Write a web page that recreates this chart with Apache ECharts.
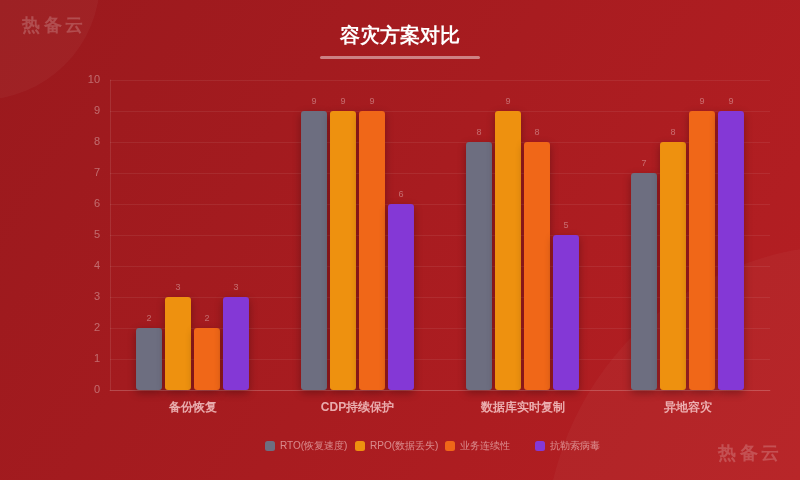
<!DOCTYPE html>
<html>
<head>
<meta charset="utf-8">
<script src="https://cdn.jsdelivr.net/npm/echarts@6/dist/echarts.min.js"></script>
<style>
html,body{margin:0;padding:0;width:800px;height:480px;overflow:hidden;}
#c{width:800px;height:480px;}
</style>
</head>
<body>
<div id="c"></div>
<script>
const categories = ['备份恢复', 'CDP持续保护', '数据库实时复制', '异地容灾'];
const seriesNames = ['RTO(恢复速度)', 'RPO(数据丢失)', '业务连续性', '抗勒索病毒'];
const rtoValues = [2, 9, 8, 7];
const rpoValues = [3, 9, 9, 8];
const continuityValues = [2, 9, 8, 9];
const ransomwareValues = [3, 6, 5, 9];
const yTicks = [0, 1, 2, 3, 4, 5, 6, 7, 8, 9, 10];

const colors = ['#6d6e80', '#ee910f', '#f06718', '#8438d6'];
const allValues = [rtoValues, rpoValues, continuityValues, ransomwareValues];
const legendLefts = [265, 355, 445, 535];

const chart = echarts.init(document.getElementById('c'));
const font = 'sans-serif';
const watermark = '热\u2009备\u2009云';

chart.setOption({
  backgroundColor: {
    type: 'linear', x: 0, y: 0, x2: 1, y2: 1,
    colorStops: [{offset: 0, color: '#9a191d'}, {offset: 1, color: '#b61f23'}]
  },
  textStyle: {fontFamily: font},
  graphic: [
    {type: 'circle', shape: {cx: -20, cy: -20, r: 120}, style: {fill: 'rgba(255,255,255,0.035)'}, z: -1, silent: true},
    {type: 'circle', shape: {cx: 850, cy: 550, r: 305}, style: {fill: 'rgba(255,255,255,0.03)'}, z: -1, silent: true},
    {type: 'rect', shape: {x: 320, y: 56, width: 160, height: 3, r: 1.5}, style: {fill: 'rgba(255,255,255,0.45)'}, silent: true},
    {type: 'text', left: 22, top: 17, style: {text: watermark, fill: 'rgba(255,255,255,0.2)', font: 'bold 18px ' + font}, silent: true},
    {type: 'text', left: 718, top: 445, style: {text: watermark, fill: 'rgba(255,255,255,0.2)', font: 'bold 18px ' + font}, silent: true}
  ],
  title: {
    text: '容灾方案对比',
    left: 'center',
    top: 21,
    textStyle: {color: '#ffffff', fontSize: 20, fontWeight: 'bold', fontFamily: font}
  },
  legend: seriesNames.map((name, i) => ({
    data: [name],
    left: legendLefts[i],
    top: 441,
    padding: 0,
    itemWidth: 10,
    itemHeight: 10,
    itemGap: 5,
    icon: 'roundRect',
    textStyle: {color: 'rgba(255,225,225,0.55)', fontSize: 10, fontFamily: font}
  })),
  grid: {left: 110, right: 30, top: 80, bottom: 90, containLabel: false},
  xAxis: {
    type: 'category',
    data: categories,
    axisLine: {show: true, lineStyle: {color: 'rgba(255,255,255,0.15)'}},
    axisTick: {show: false},
    axisLabel: {color: 'rgba(255,220,220,0.75)', fontSize: 12, fontWeight: 'bold', margin: 12}
  },
  yAxis: {
    type: 'value',
    min: yTicks[0],
    max: yTicks[yTicks.length - 1],
    interval: 1,
    axisLine: {show: true, lineStyle: {color: 'rgba(255,255,255,0.1)'}},
    axisTick: {show: false},
    axisLabel: {color: 'rgba(255,255,255,0.35)', fontSize: 11, margin: 10},
    splitLine: {lineStyle: {color: 'rgba(255,255,255,0.07)'}}
  },
  series: seriesNames.map((name, i) => ({
    name: name,
    type: 'bar',
    data: allValues[i],
    barWidth: 26,
    barGap: '11.5%',
    itemStyle: {
      color: colors[i],
      borderRadius: [3, 3, 3, 3],
      shadowBlur: 8,
      shadowColor: 'rgba(0,0,0,0.3)',
      shadowOffsetY: 3
    },
    label: {
      show: true,
      position: 'top',
      distance: 5,
      color: 'rgba(255,255,255,0.35)',
      fontSize: 9
    }
  }))
});
</script>
</body>
</html>
